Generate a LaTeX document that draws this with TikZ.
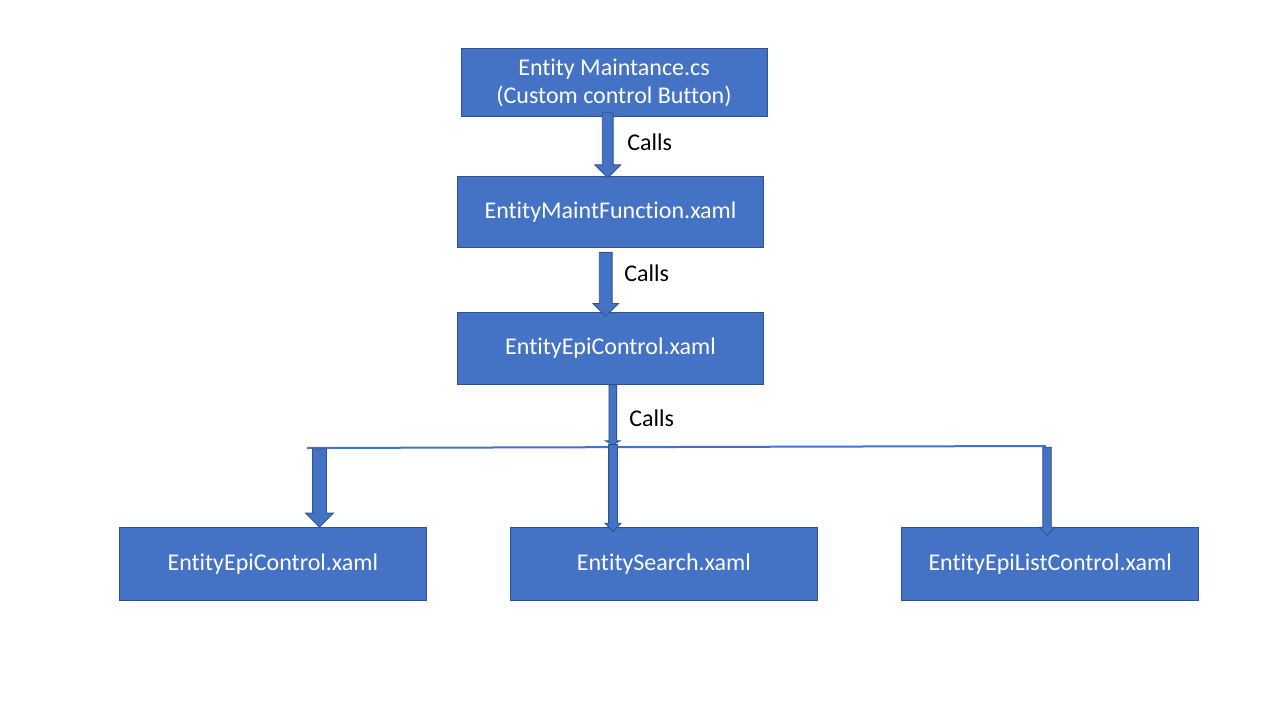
\documentclass[tikz,border=0pt]{standalone}
\usepackage{fontspec}
\setmainfont{Carlito}[Ligatures=NoCommon]
\usetikzlibrary{shapes.arrows,positioning,calc}
\definecolor{boxblue}{HTML}{4472C4}
\definecolor{boxedge}{HTML}{2F528F}
\tikzset{
block/.style={
  rectangle,
  draw=boxedge,
  fill=boxblue,
  text=white,
  line width=0.75pt,
  inner sep=0pt,
  align=center,
  font=\fontsize{18}{21.6}\selectfont,
  minimum width=230pt,
  minimum height=53pt},
callarrow/.style n args={3}{
  single arrow,
  draw=boxedge,
  fill=boxblue,
  line width=0.6pt,
  inner xsep=#2,
  inner ysep=0pt,
  shape border rotate=270,
  single arrow head indent=0pt,
  minimum height=#1,
  single arrow head extend=#3},
calls/.style={anchor=west, inner sep=0pt, font=\fontsize{18}{21.6}\selectfont},
edge/.style={draw=boxblue, line width=1.5pt}
}
\begin{document}
\begin{tikzpicture}[x=0.75pt, y=-0.75pt]
    \useasboundingbox (0,0) rectangle (1280,720);
    \node [block, minimum width=229.5pt, minimum height=51pt] (entity) at (614,83) {Entity Maintance.cs\\(Custom control Button)};
    \node [block, below=44pt of entity, xshift=-2.6pt] (maint) {EntityMaintFunction.xaml};
    \node [block, minimum height=54pt, below=48pt of maint] (epi) {EntityEpiControl.xaml};
    \node [block, minimum height=55pt, below=106.5pt of epi, xshift=40pt] (search) {EntitySearch.xaml};
    \node [block, minimum height=55pt, left=62.5pt of search] (epicopy) {EntityEpiControl.xaml};
    \node [block, minimum height=55pt, minimum width=223pt, right=62.5pt of search] (epilist) {EntityEpiListControl.xaml};
    % fork under the third box
    \coordinate (split) at (613,443);
    \coordinate (fork west) at (307,448);
    \coordinate (fork east) at (1046,446);
    \coordinate (drop west) at (319.5,447.7);
    \coordinate (drop east) at (1047,446.7);
    \path [edge] (fork west) -- (fork east);
    \path (entity.south) -- node [callarrow={48.75pt}{3.75pt}{5.6pt}, xshift=-3.4pt, yshift=3.2pt] (call1) {} (maint.north);
    \path (maint.south) -- node [callarrow={48pt}{4.5pt}{4.9pt}, xshift=-3.6pt, yshift=-1pt] (call2) {} (epi.north);
    \path (epi.south) -- node [callarrow={45pt}{2.6pt}{2.6pt}, single arrow tip angle=120, xshift=0.75pt] (call3) {} (split);
    \path (split) -- node [callarrow={65pt}{3pt}{2.6pt}, yshift=-0.6pt] (drop2) {} (split |- search.north);
    \path (drop west) -- node [callarrow={58.5pt}{4.9pt}{5.25pt}, yshift=2pt] (drop1) {} (drop west |- epicopy.north);
    \path (drop east) -- node [callarrow={66pt}{2.9pt}{2.7pt}, yshift=-1.7pt] (drop3) {} (drop east |- epilist.north);
    \node [calls] (calls1) at (627,142) {Calls};
    \node [calls] (calls2) at (624,273) {Calls};
    \node [calls] (calls3) at (629,418) {Calls};
\end{tikzpicture}
\end{document}
